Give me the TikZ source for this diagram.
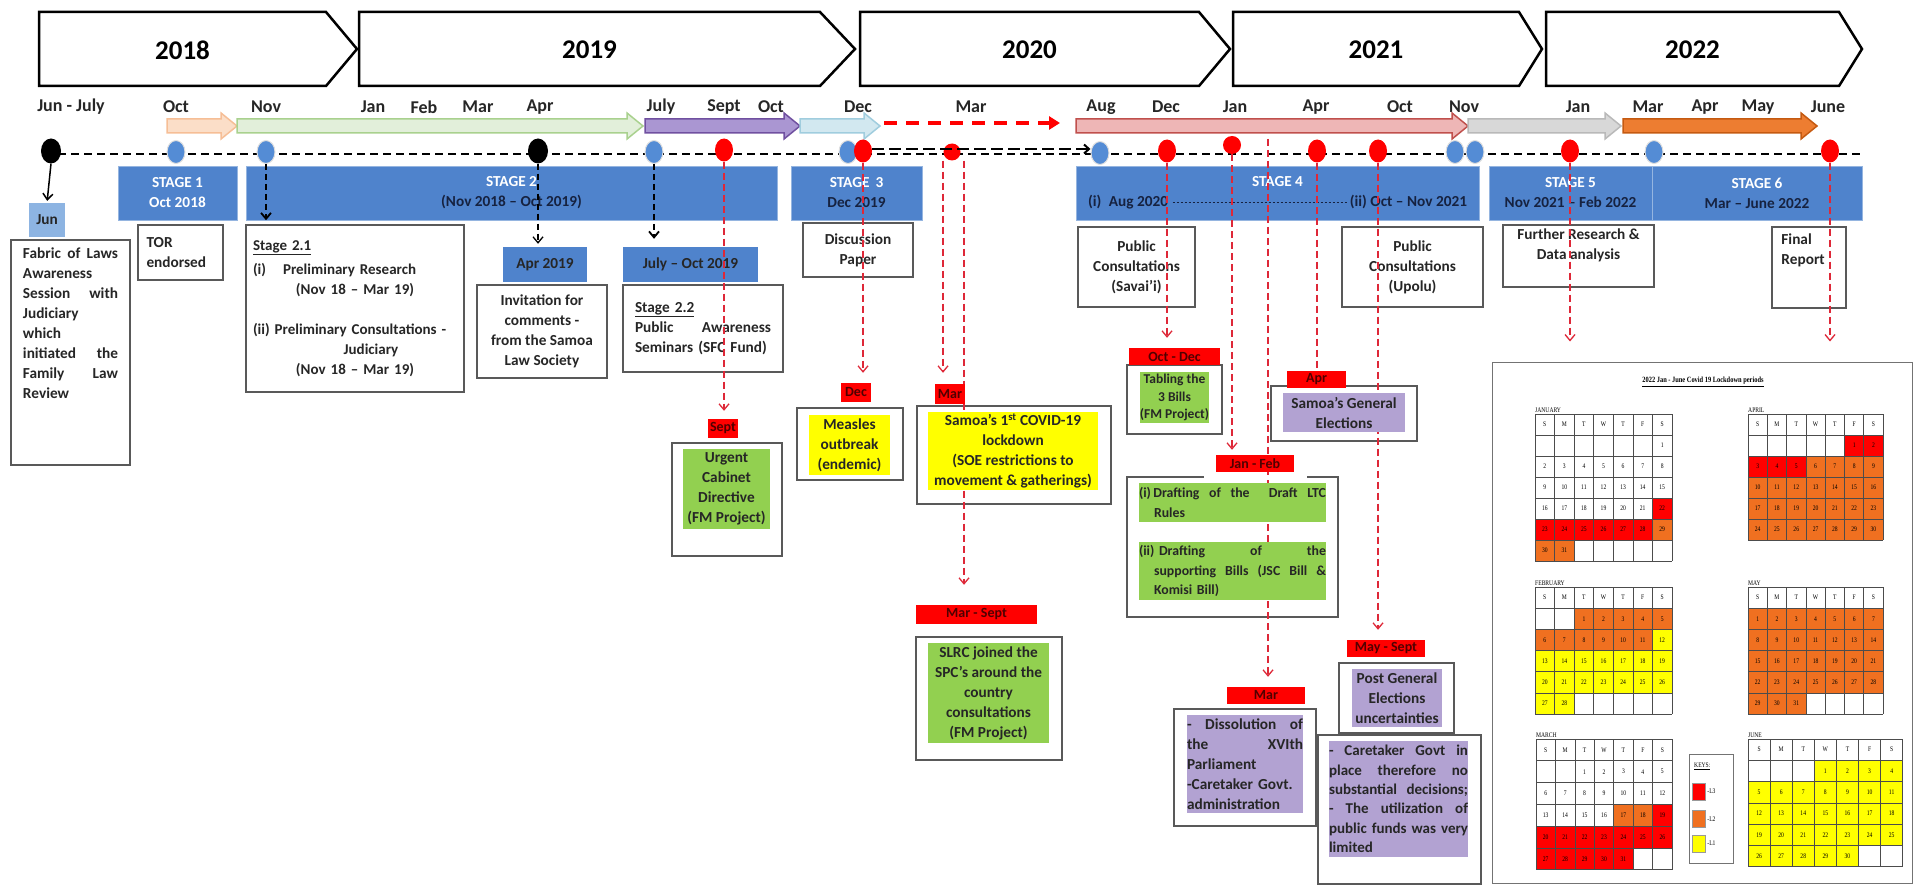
\documentclass[tikz,border=0pt]{standalone}
\usepackage{fontspec}
\setmainfont{Carlito}
\newfontfamily\calfont{Liberation Serif}[FakeStretch=0.8]
\usetikzlibrary{arrows.meta,shapes.geometric,positioning,calc}

\definecolor{stageblue}{RGB}{79,131,204}
\definecolor{junblue}{RGB}{141,180,226}
\definecolor{dotblue}{RGB}{84,140,213}
\definecolor{navytext}{RGB}{22,34,64}
\definecolor{boxgreen}{RGB}{146,208,80}
\definecolor{boxyellow}{RGB}{255,255,0}
\definecolor{boxpurple}{RGB}{178,162,210}
\definecolor{linered}{RGB}{222,40,56}
\definecolor{lblred}{RGB}{255,0,0}
\definecolor{lbltext}{RGB}{80,0,0}
\definecolor{arrpeach}{RGB}{251,222,200}
\definecolor{arrpeachd}{RGB}{246,190,150}
\definecolor{arrgreen}{RGB}{226,239,218}
\definecolor{arrgreend}{RGB}{169,209,142}
\definecolor{arrpurple}{RGB}{170,150,210}
\definecolor{arrpurpled}{RGB}{112,80,160}
\definecolor{arrblue}{RGB}{210,232,240}
\definecolor{arrblued}{RGB}{160,205,222}
\definecolor{arrpink}{RGB}{238,182,182}
\definecolor{arrpinkd}{RGB}{192,80,77}
\definecolor{arrgrey}{RGB}{216,216,216}
\definecolor{arrgreyd}{RGB}{185,185,185}
\definecolor{arrorange}{RGB}{237,125,49}
\definecolor{arrorangd}{RGB}{197,90,17}
\definecolor{calred}{RGB}{255,0,0}
\definecolor{calorange}{RGB}{240,112,32}
\definecolor{calyellow}{RGB}{255,255,0}

\newcommand\stagedashes{\leaders\hbox to 4pt{\hss\rule[4.5pt]{2.6pt}{0.7pt}\hss}\hfill}
\newcommand\fullline[1]{\makebox[\hsize][s]{#1}}

\pgfdeclarelayer{links}
\pgfdeclarelayer{front}
\pgfsetlayers{main,links,front}

\begin{document}
\begin{tikzpicture}[x=1pt,y=-1pt]
\tikzstyle{year text}=[font=\fontsize{27}{32}\selectfont\bfseries]
\tikzstyle{month}=[font=\fontsize{18}{22}\selectfont\bfseries,text=black!85]
\tikzstyle{txt}=[font=\fontsize{15.3}{20}\selectfont\bfseries,text=black!85,inner sep=0pt]
\tikzstyle{stage bar}=[fill=stageblue,draw=stageblue!60!white,line width=0.8pt,minimum height=54pt,inner sep=0pt,align=center,font=\fontsize{15.3}{20}\selectfont\bfseries,text=navytext]
\tikzstyle{box}=[draw=black!65,line width=1.5pt,fill=white,inner sep=0pt]
\tikzstyle{blue tag}=[txt,fill=stageblue]
\tikzstyle{red label}=[fill=lblred,inner sep=0pt,font=\fontsize{14}{16}\selectfont\bfseries,text=lbltext]
\tikzstyle{fill box}=[txt,align=center]
\tikzstyle{dot}=[ellipse,inner sep=0pt,minimum width=18pt,minimum height=23pt]
\tikzstyle{blue dot}=[dot,fill=dotblue,draw=white!75!gray,line width=1pt]
\tikzstyle{red dot}=[dot,fill=lblred]
\tikzstyle{black dot}=[dot,fill=black,minimum width=20pt,minimum height=25pt]
\tikzstyle{red line}=[draw=linered,line width=1.3pt,dash pattern=on 7pt off 4pt]
\tikzstyle{red link}=[red line,-{Straight Barb[length=6pt,width=10pt]}]
\tikzstyle{black link}=[line width=1.8pt,dash pattern=on 6pt off 4pt,-{Straight Barb[length=6pt,width=10pt]}]
\tikzstyle{cal text}=[font=\calfont\fontsize{7}{8}\selectfont,inner sep=0pt]
\tikzstyle{cal grid}=[draw=black!70,line width=0.7pt]

\useasboundingbox (0,0) rectangle (1914,885);

% years
\foreach \xa/\xb/\xt/\yr in {39/326/357/2018,359/820/855/2019,860/1199/1230/2020,1233/1519/1542/2021,1546/1839/1862/2022}{
  \draw[line width=2.5pt,fill=white] (\xa,12) -- (\xb,12) -- (\xt,49) -- (\xb,86) -- (\xa,86) -- cycle;
  \node[year text] (y\yr) at ({(\xa+\xb)/2},50) {\yr};
}

% months
\foreach \x/\m [count=\i] in {71/Jun - July,176/Oct,266/Nov,373/Jan,424/Feb,478/Mar,540/Apr,661/July,724/Sept,771/Oct,858/Dec,971/Mar,1101/Aug,1166/Dec,1235/Jan,1316/Apr,1400/Oct,1464/Nov,1578/Jan,1648/Mar,1705/Apr,1758/May,1828/June}
  \node[month] (m\i) at (\x,107) {\m};

% stage arrows
\foreach \xa/\xb/\fc/\dc in {167/237/arrpeach/arrpeachd,237/643/arrgreen/arrgreend,645/800/arrpurple/arrpurpled,800/880/arrblue/arrblued,1076/1468/arrpink/arrpinkd,1468/1621/arrgrey/arrgreyd,1623/1817/arrorange/arrorangd}
  \draw[draw=\dc,fill=\fc,line width=1.5pt] (\xa,119) -- ({\xb-16},119) -- ({\xb-16},113) -- (\xb,126) -- ({\xb-16},139) -- ({\xb-16},133) -- (\xa,133) -- cycle;
\coordinate (ra0) at (884,123);
\coordinate (ra1) at (1060,123);
\draw[draw=lblred,line width=3.5pt,dash pattern=on 13pt off 9pt,-{Triangle[length=11pt,width=13pt]}] (ra0) -- (ra1);

% time line
\coordinate (tl0) at (58,154);
\coordinate (tl1) at (1862,154);
\draw[line width=2.2pt,dash pattern=on 8pt off 5pt] (tl0) -- (tl1);

% dots
\node[black dot] (dJun) at (51,151) {};
\node[blue dot] (dOct) at (176,152) {};
\node[blue dot] (dNov) at (266,152) {};
\node[black dot] (dApr) at (538,151) {};
\node[blue dot] (dJul) at (654,152) {};
\node[red dot] (dSep) at (724,150) {};
\node[blue dot] (dDecB) at (848,152) {};
\node[red dot] (dDec) at (863,151) {};
\node[red dot,minimum width=17pt,minimum height=17pt] (dMar) at (952,152) {};
\node[blue dot] (dAug) at (1100,153) {};
\node[red dot] (dDec20) at (1167,151) {};
\node[red dot,minimum height=18pt] (dJan21) at (1232,145) {};
\node[red dot] (dApr21) at (1317,151) {};
\node[red dot] (dOct21) at (1378,151) {};
\node[blue dot] (dNovA) at (1455,152) {};
\node[blue dot] (dNovB) at (1475,152) {};
\node[red dot] (dJan22) at (1570,151) {};
\node[blue dot] (dMar22) at (1654,152) {};
\node[red dot] (dJun22) at (1830,151) {};
\draw[line width=2pt,dash pattern=on 12pt off 5pt,-{Straight Barb[length=5pt,width=9pt]}] ([yshift=2pt]dDec.east) -- ([yshift=2pt]dDec.east -| dAug.west);

% stages
\node[stage bar,minimum width=119pt] (s1) at (177.5,193) {\textcolor{white}{STAGE 1}\\\textcolor{white}{Oct 2018}};
\node[stage bar,minimum width=531pt] (s2) at (511.5,193) {\textcolor{white}{STAGE 2}\\(Nov 2018 -- Oct 2019)};
\node[stage bar,minimum width=131pt] (s3) at (856.5,193) {\textcolor{white}{STAGE\, 3}\\Dec 2019};
\node[stage bar,minimum width=403pt] (s4) at (1277.5,193) {\textcolor{white}{STAGE 4}\\\makebox[379pt]{(i)\enspace Aug 2020\,\stagedashes(ii) Oct -- Nov 2021}};
\node[stage bar,minimum width=163pt] (s5) at (1570.5,193) {\textcolor{white}{STAGE 5}\\Nov 2021 -- Feb 2022};
\node[stage bar,minimum width=210pt] (s6) at (1757,193) {\textcolor{white}{STAGE 6}\\Mar -- June 2022};

% outer boxes
\node[txt,fill=junblue,minimum width=36pt,minimum height=34pt] (jun) at (47,220) {Jun};
\node[box,minimum width=119pt,minimum height=225pt] (fab) at (70.5,352.5) {};
\node[txt,text width=95pt,align=left,anchor=north] (fabt) at ([yshift=-8pt]fab.north) {\fullline{Fabric\hfill of\hfill Laws}\\Awareness\\\fullline{Session\hfill with}\\Judiciary\\which\\\fullline{initiated\hfill the}\\\fullline{Family\hfill Law}\\Review};
\node[box,txt,minimum width=85pt,minimum height=55pt,text width=68pt,align=left] (tor) at (180.5,252.5) {TOR\\endorsed};
\node[box,txt,font=\fontsize{15}{20}\selectfont\bfseries,minimum width=218pt,minimum height=167pt,text width=204pt,align=left] (st21) at (355,308.5) {\underline{Stage 2.1}\\[4pt](i)\hspace{17pt}Preliminary Research\\\makebox[\hsize]{(Nov 18 -- Mar 19)}\\[20pt](ii) Preliminary Consultations -\\\makebox[\hsize]{\hspace{32pt}Judiciary}\\\makebox[\hsize]{(Nov 18 -- Mar 19)}};
\node[blue tag,minimum width=84pt,minimum height=35pt] (apr) at (545,264.5) {Apr 2019};
\node[box,txt,minimum width=130pt,minimum height=93pt,align=center] (inv) at (542,331.5) {Invitation for\\comments -\\from the Samoa\\Law Society};
\node[blue tag,minimum width=135pt,minimum height=35pt] (jul) at (690.5,264.5) {July -- Oct 2019};
\node[box,txt,minimum width=160pt,minimum height=87pt,text width=136pt,align=left] (st22) at (703,328.5) {\underline{Stage 2.2}\\\fullline{Public\hfill Awareness}\\Seminars (SFC Fund)};
\node[box,minimum width=110pt,minimum height=113pt] (urg) at (727,499.5) {};
\node[box,txt,minimum width=110pt,minimum height=54pt,align=center] (disc) at (858,250) {Discussion\\Paper};
\node[box,minimum width=106pt,minimum height=72pt] (meas) at (850,444) {};
\node[box,minimum width=194pt,minimum height=98pt] (cov) at (1014,455) {};
\node[box,minimum width=146pt,minimum height=123pt] (slrc) at (989,698.5) {};
\node[box,txt,minimum width=117pt,minimum height=80pt,align=center] (sav) at (1136.5,267) {Public\\Consultations\\(Savai'i)};
\node[box,minimum width=95pt,minimum height=69pt] (tab) at (1174.5,399.5) {};
\node[box,minimum width=211pt,minimum height=140pt] (draft) at (1232.5,547) {};
\node[box,minimum width=146pt,minimum height=55pt] (sam) at (1344,413.5) {};
\node[box,minimum width=115pt,minimum height=70pt] (post) at (1396.5,698) {};
\node[box,minimum width=163pt,minimum height=149pt] (care) at (1399.5,809.5) {};
\node[box,minimum width=142pt,minimum height=117pt] (diss) at (1245,767.5) {};
\node[box,txt,minimum width=141pt,minimum height=80pt,align=center] (upo) at (1412.5,267) {Public\\Consultations\\(Upolu)};
\node[box,minimum width=151pt,minimum height=62pt] (fur) at (1578.5,256) {};
\node[txt,align=center,anchor=north] (furt) at ([yshift=-4pt]fur.north) {Further Research \&\\Data analysis};
\node[box,minimum width=74pt,minimum height=81pt] (fin) at (1809,267.5) {};
\node[txt,align=left,anchor=north west] (fint) at ([xshift=10pt,yshift=-7pt]fin.north west) {Final\\Report};
\node[box,draw=black!55,line width=1pt,minimum width=420pt,minimum height=521pt] (cal) at (1702,622.5) {};

% filled boxes and red labels
\begin{pgfonlayer}{front}
\draw[white,line width=3pt] ([xshift=-29pt]draft.north) -- ([xshift=74pt]draft.north);
\node[fill box,fill=boxgreen,minimum width=87pt,minimum height=80pt] (urgt) at (726.5,489) {Urgent\\Cabinet\\Directive\\(FM Project)};
\node[fill box,fill=boxyellow,minimum width=81pt,minimum height=60pt] (meast) at (849.5,445) {Measles\\outbreak\\(endemic)};
\node[fill box,fill=boxyellow,minimum width=170pt,minimum height=78pt] (covt) at (1013,451) {Samoa's 1\textsuperscript{st} COVID-19\\lockdown\\(SOE restrictions to\\movement \& gatherings)};
\node[fill box,fill=boxgreen,minimum width=121pt,minimum height=100pt] (slrct) at (988.5,693) {SLRC joined the\\SPC's around the\\country\\consultations\\(FM Project)};
\node[fill box,fill=boxgreen,font=\fontsize{13.5}{17.5}\selectfont\bfseries,minimum width=69pt,minimum height=51pt] (tabt) at (1174.5,397.5) {Tabling the\\3 Bills\\(FM Project)};
\node[txt,fill=boxgreen,font=\fontsize{13.8}{19.5}\selectfont\bfseries,minimum width=187pt,minimum height=39pt,text width=187pt,align=left] (dra1) at (1232.5,502.5) {\fullline{(i)\,Drafting\hfill of\hfill the\hfill\hfill Draft\hfill LTC}\\\hspace*{15pt}Rules};
\node[txt,fill=boxgreen,font=\fontsize{13.8}{19.5}\selectfont\bfseries,minimum width=187pt,minimum height=58pt,text width=187pt,align=left] (dra2) at (1232.5,571) {\fullline{(ii) Drafting\hfill of\hfill the}\\\hspace*{15pt}\makebox[\dimexpr\hsize-15pt\relax][s]{supporting\hfill Bills\hfill (JSC\hfill Bill\hfill \&}\\\hspace*{15pt}Komisi Bill)};
\node[fill box,fill=boxpurple,minimum width=122pt,minimum height=39pt] (samt) at (1344,412.5) {Samoa's General\\Elections};
\node[fill box,fill=boxpurple,minimum width=90pt,minimum height=58pt] (postt) at (1397,698) {Post General\\Elections\\uncertainties};
\node[txt,fill=boxpurple,font=\fontsize{15}{19.4}\selectfont\bfseries,minimum width=139pt,minimum height=116pt,text width=139pt,align=left] (caret) at (1398.5,799) {\fullline{-\hfill Caretaker\hfill Govt\hfill in}\\\fullline{place\hfill therefore\hfill no}\\\fullline{substantial\hfill decisions;}\\\fullline{-\hfill The\hfill utilization\hfill of}\\\fullline{public\hfill funds\hfill was\hfill very}\\limited};
\node[txt,fill=boxpurple,minimum width=116pt,minimum height=98pt,text width=116pt,align=left] (disst) at (1245,764) {\fullline{-\hfill Dissolution\hfill of}\\\fullline{the\hfill XVIth}\\Parliament\\-Caretaker Govt.\\administration};

\node[red label,minimum width=30pt,minimum height=19pt] (lSep) at (723,428.5) {Sept};
\node[red label,minimum width=30pt,minimum height=19pt] (lDec) at (856,392.5) {Dec};
\node[red label,minimum width=30pt,minimum height=20pt] (lMar) at (950,394) {Mar};
\node[red label,minimum width=121pt,minimum height=19pt] (lMarSep) at (976.5,614.5) {Mar - Sept};
\node[red label,minimum width=91pt,minimum height=17pt] (lOctDec) at (1174.5,356.5) {Oct - Dec};
\node[red label,minimum width=78pt,minimum height=17pt] (lJanFeb) at (1255,463.5) {Jan - Feb};
\node[red label,minimum width=59pt,minimum height=17pt] (lApr) at (1316.5,379.5) {Apr};
\node[red label,minimum width=78pt,minimum height=17pt] (lMaySep) at (1386,648.5) {May - Sept};
\node[red label,minimum width=78pt,minimum height=17pt] (lMar21) at (1266,695.5) {Mar};
\end{pgfonlayer}

% links
\begin{pgfonlayer}{links}
\draw[line width=1.5pt,-{Straight Barb[length=6pt,width=10pt]},shorten >=2pt] (dJun.south) -- (jun.north);
\draw[black link,shorten >=4pt] (dNov.south) -- (dNov.south |- st21.north);
\draw[black link,line width=1.3pt,shorten >=3pt] (dApr.south) -- (dApr.south |- apr.north);
\draw[black link,shorten >=8pt] (dJul.south) -- (dJul.south |- jul.north);
\draw[red link,shorten >=8pt] (dSep.south) -- (dSep.south |- lSep.north);
\draw[red link,shorten >=10pt] (dDec.south) -- (dDec.south |- lDec.north);
\draw[red link,shorten >=11pt] ([xshift=-9pt]dMar.south) -- ([xshift=-9pt]dMar.south |- lMar.north);
\draw[red link,shorten >=20pt] ([xshift=12pt]dMar.south) -- ([xshift=12pt]dMar.south |- lMarSep.north);
\draw[red link,shorten >=10pt] (dDec20.south) -- (dDec20.south |- lOctDec.north);
\draw[red link,shorten >=5pt] (dJan21.south) -- (dJan21.south |- lJanFeb.north);
\coordinate (a4) at (1268,139);
\draw[red link,shorten >=10pt] (a4) -- (a4 |- lMar21.north);
\draw[red line] (dApr21.south) -- (dApr21.south |- lApr.north);
\draw[red link,shorten >=10pt] (dOct21.south) -- (dOct21.south |- lMaySep.north);
\draw[red link,shorten >=20pt] (dJan22.south) -- (dJan22.south |- cal.north);
\draw[red link,shorten >=20pt] (dJun22.south) -- (dJun22.south |- cal.north);
\end{pgfonlayer}

% calendar
\node[cal text,font=\calfont\bfseries\fontsize{8}{9}\selectfont] (calt) at (1703,382) {\underline{2022 Jan - June Covid 19 Lockdown periods}};
\foreach \mx/\my/\cw/\rh/\st/\nd/\nr/\mn/\fills in {1535/414/19.57/21/6/31/7/JANUARY/{22/28/calred,29/31/calorange},1535/587/19.57/21.2/2/28/6/FEBRUARY/{1/11/calorange,12/28/calyellow},1536/739/19.43/21.8/2/31/6/MARCH/{17/18/calorange,19/31/calred},1748/414/19.3/21/5/30/6/APRIL/{1/5/calred,6/30/calorange},1748/587/19.3/21.2/0/31/6/MAY/{1/31/calorange},1748/739/22.1/21.3/3/30/6/JUNE/{1/30/calyellow}}{
  \node[cal text,anchor=south west] (cal\mn) at (\mx,{\my-1}) {\mn};
  % coloured days
  \foreach \a/\b/\c in \fills {
    \foreach \d in {\a,...,\b} {
      \pgfmathtruncatemacro\calidx{\d-1+\st}
      \pgfmathtruncatemacro\calcol{mod(\calidx,7)}
      \pgfmathtruncatemacro\calrow{div(\calidx,7)+1}
      \fill[\c] ({\mx+\calcol*\cw},{\my+\calrow*\rh}) rectangle ++(\cw,\rh);
    }
  }
  % grid
  \foreach \i in {0,...,7} \draw[cal grid] ({\mx+\i*\cw},\my) -- ++(0,{\nr*\rh});
  \foreach \j in {0,...,\nr} \draw[cal grid] (\mx,{\my+\j*\rh}) -- ++({7*\cw},0);
  \foreach \w [count=\i from 0] in {S,M,T,W,T,F,S}
    \node[cal text] at ({\mx+(\i+0.5)*\cw},{\my+0.5*\rh}) {\w};
  \foreach \d in {1,...,\nd} {
    \pgfmathtruncatemacro\calidx{\d-1+\st}
    \pgfmathtruncatemacro\calcol{mod(\calidx,7)}
    \pgfmathtruncatemacro\calrow{div(\calidx,7)+1}
    \node[cal text] at ({\mx+(\calcol+0.5)*\cw},{\my+(\calrow+0.5)*\rh}) {\d};
  }
}
% keys
\node[draw=black!55,line width=0.8pt,minimum width=44pt,minimum height=109pt,inner sep=0pt] (keys) at (1711,808.5) {};
\node[cal text,anchor=west] (keyt) at (1694,766) {\underline{KEYS:}};
\foreach \yy/\c/\l [count=\k] in {791.5/calred/-L3,819/calorange/-L2,843.5/calyellow/-L1}{
  \node[fill=\c,draw=black!40,minimum width=13pt,minimum height=17pt,inner sep=0pt] (key\k) at (1698.5,\yy) {};
  \node[cal text,right=2pt of key\k] (keyl\k) {\l};
}
\end{tikzpicture}
\end{document}
